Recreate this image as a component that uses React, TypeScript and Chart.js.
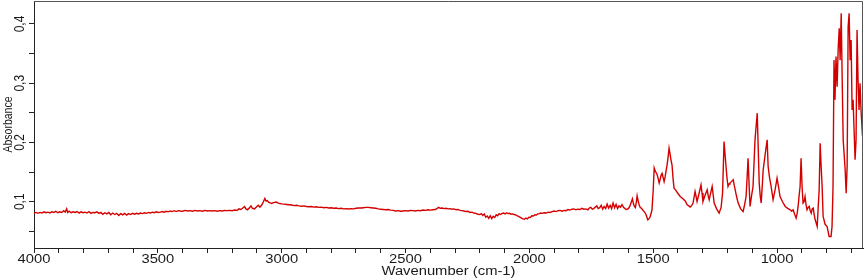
import { useEffect, useRef } from 'react';
import { Chart, registerables } from 'chart.js';

Chart.register(...registerables);

const wavenumbers = [
  4000, 3992, 3984, 3976, 3968, 3960, 3952, 3944, 3936, 3928, 3920, 3912, 3904, 3896, 3888, 3880, 3874, 3868, 3864, 3858,
  3850, 3842, 3834, 3826, 3818, 3810, 3802, 3794, 3786, 3778, 3770, 3762, 3754, 3746, 3738, 3730, 3722, 3714, 3706, 3698,
  3690, 3682, 3674, 3666, 3658, 3650, 3642, 3634, 3626, 3618, 3610, 3602, 3594, 3586, 3578, 3570, 3562, 3554, 3546, 3538,
  3530, 3522, 3514, 3506, 3498, 3490, 3482, 3474, 3466, 3458, 3450, 3442, 3434, 3426, 3418, 3410, 3400, 3390, 3380, 3370,
  3360, 3350, 3340, 3330, 3320, 3310, 3300, 3290, 3280, 3270, 3260, 3250, 3240, 3230, 3220, 3210, 3200, 3190, 3180, 3172,
  3165, 3158, 3150, 3144, 3138, 3130, 3124, 3118, 3110, 3102, 3095, 3088, 3080, 3074, 3068, 3063, 3058, 3052, 3046, 3040,
  3034, 3028, 3022, 3016, 3008, 3000, 2990, 2980, 2970, 2960, 2950, 2940, 2930, 2920, 2910, 2900, 2890, 2880, 2870, 2860,
  2850, 2840, 2830, 2820, 2810, 2800, 2790, 2780, 2770, 2760, 2750, 2740, 2730, 2720, 2710, 2700, 2690, 2680, 2670, 2660,
  2650, 2640, 2630, 2620, 2610, 2600, 2590, 2580, 2570, 2560, 2550, 2540, 2530, 2520, 2510, 2500, 2490, 2480, 2470, 2460,
  2450, 2440, 2430, 2420, 2410, 2400, 2390, 2380, 2372, 2366, 2360, 2352, 2344, 2336, 2328, 2320, 2312, 2304, 2296, 2288,
  2280, 2272, 2264, 2256, 2248, 2240, 2232, 2224, 2216, 2208, 2200, 2194, 2188, 2182, 2176, 2170, 2164, 2158, 2152, 2146,
  2140, 2134, 2128, 2122, 2116, 2110, 2104, 2098, 2092, 2086, 2080, 2074, 2068, 2062, 2056, 2050, 2044, 2038, 2032, 2026,
  2020, 2014, 2008, 2002, 1996, 1990, 1984, 1978, 1972, 1966, 1960, 1954, 1948, 1940, 1932, 1924, 1916, 1908, 1900, 1892,
  1884, 1876, 1868, 1860, 1852, 1844, 1836, 1828, 1820, 1812, 1804, 1796, 1788, 1780, 1772, 1764, 1758, 1752, 1746, 1740,
  1734, 1728, 1722, 1716, 1710, 1704, 1698, 1692, 1686, 1680, 1674, 1668, 1662, 1656, 1650, 1644, 1638, 1632, 1626, 1620,
  1614, 1608, 1600, 1594, 1588, 1584, 1580, 1576, 1572, 1568, 1565, 1561, 1557, 1552, 1548, 1542, 1536, 1532, 1527, 1522,
  1518, 1514, 1510, 1505, 1500, 1496, 1492, 1488, 1484, 1480, 1476, 1472, 1468, 1464, 1460, 1456, 1452, 1448, 1444, 1440,
  1436, 1432, 1428, 1424, 1420, 1416, 1410, 1400, 1391, 1380, 1370, 1363, 1356, 1351, 1345, 1339, 1335, 1331, 1327, 1323,
  1315, 1307, 1303, 1299, 1290, 1282, 1278, 1274, 1268, 1262, 1258, 1254, 1244, 1234, 1226, 1220, 1214, 1210, 1206, 1202,
  1198, 1194, 1190, 1184, 1177, 1173, 1169, 1163, 1157, 1147, 1137, 1131, 1125, 1121, 1117, 1113, 1109, 1103, 1097, 1093,
  1089, 1084, 1080, 1076, 1072, 1068, 1064, 1060, 1056, 1048, 1040, 1036, 1030, 1024, 1016, 1008, 1000, 994, 988, 978,
  967, 957, 947, 941, 935, 929, 923, 919, 915, 911, 907, 903, 899, 895, 891, 887, 883, 879, 875, 870,
  866, 862, 858, 854, 850, 846, 842, 838, 834, 830, 826, 822, 818, 814, 806, 798, 794, 790, 782, 778,
  774, 770, 766, 762, 757.5, 753.4, 749, 745.4, 741, 737, 733, 725, 721, 717, 713, 709, 705, 701, 697, 693,
  689, 685, 681, 677, 673, 669, 665, 661, 656.5, 653,
];

const absorbance = [
  0.081, 0.082, 0.0805, 0.082, 0.081, 0.083, 0.0815, 0.0825, 0.081, 0.083, 0.082, 0.084, 0.0815, 0.083, 0.082, 0.085, 0.0825, 0.088, 0.082, 0.084,
  0.0815, 0.083, 0.082, 0.0835, 0.081, 0.083, 0.0815, 0.0825, 0.081, 0.0835, 0.0805, 0.082, 0.0815, 0.083, 0.0805, 0.082, 0.079, 0.0815, 0.0795, 0.082,
  0.078, 0.081, 0.0785, 0.0805, 0.077, 0.080, 0.078, 0.0805, 0.0775, 0.080, 0.0785, 0.0805, 0.079, 0.0805, 0.0795, 0.081, 0.080, 0.0815, 0.0805, 0.082,
  0.081, 0.0825, 0.0815, 0.083, 0.082, 0.0825, 0.0835, 0.0825, 0.084, 0.083, 0.0845, 0.0835, 0.085, 0.0835, 0.085, 0.0845, 0.084, 0.0855, 0.0845, 0.085,
  0.084, 0.0855, 0.0845, 0.085, 0.084, 0.0855, 0.0845, 0.085, 0.0845, 0.085, 0.084, 0.085, 0.0845, 0.0855, 0.085, 0.0855, 0.085, 0.086, 0.0855, 0.088,
  0.087, 0.089, 0.092, 0.088, 0.0865, 0.090, 0.093, 0.089, 0.088, 0.091, 0.094, 0.091, 0.095, 0.100, 0.1055, 0.101, 0.102, 0.099, 0.098, 0.097,
  0.0985, 0.099, 0.0995, 0.098, 0.097, 0.0965, 0.096, 0.0955, 0.095, 0.0945, 0.0935, 0.094, 0.093, 0.0925, 0.093, 0.092, 0.0915, 0.092, 0.091, 0.0915,
  0.0905, 0.091, 0.090, 0.0905, 0.0895, 0.090, 0.089, 0.0895, 0.0885, 0.089, 0.088, 0.0885, 0.0878, 0.0885, 0.088, 0.089, 0.0895, 0.0895, 0.090, 0.0905,
  0.0905, 0.090, 0.0895, 0.089, 0.088, 0.0875, 0.087, 0.0865, 0.087, 0.086, 0.0855, 0.0845, 0.085, 0.084, 0.0845, 0.085, 0.0845, 0.0855, 0.085, 0.0845,
  0.0855, 0.085, 0.086, 0.0855, 0.0865, 0.086, 0.0865, 0.087, 0.089, 0.0905, 0.089, 0.0895, 0.0885, 0.089, 0.088, 0.0885, 0.0875, 0.088, 0.0865, 0.087,
  0.0855, 0.085, 0.0845, 0.0835, 0.084, 0.082, 0.0825, 0.081, 0.0805, 0.079, 0.0785, 0.080, 0.077, 0.0795, 0.074, 0.076, 0.072, 0.0765, 0.0715, 0.0755,
  0.0735, 0.078, 0.0765, 0.080, 0.0785, 0.0805, 0.081, 0.0795, 0.0815, 0.080, 0.0805, 0.079, 0.0795, 0.0785, 0.078, 0.0765, 0.0755, 0.074, 0.0725, 0.071,
  0.0705, 0.0725, 0.071, 0.074, 0.0735, 0.0765, 0.076, 0.078, 0.0775, 0.0795, 0.080, 0.081, 0.0805, 0.0815, 0.081, 0.0825, 0.082, 0.0835, 0.0845, 0.0835,
  0.085, 0.0855, 0.084, 0.0855, 0.085, 0.087, 0.086, 0.0875, 0.088, 0.0865, 0.0875, 0.087, 0.089, 0.0875, 0.088, 0.0865, 0.0895, 0.0905, 0.0875, 0.0885,
  0.091, 0.093, 0.0885, 0.090, 0.094, 0.0875, 0.092, 0.0885, 0.096, 0.0895, 0.094, 0.0885, 0.098, 0.090, 0.0955, 0.0885, 0.093, 0.091, 0.095, 0.0905,
  0.0885, 0.087, 0.0885, 0.093, 0.100, 0.105, 0.097, 0.092, 0.090, 0.100, 0.110, 0.102, 0.095, 0.090, 0.0895, 0.086, 0.083, 0.081, 0.076, 0.0697,
  0.071, 0.073, 0.078, 0.0865, 0.120, 0.157, 0.152, 0.149, 0.1455, 0.139, 0.1315, 0.138, 0.145, 0.148, 0.141, 0.134, 0.142, 0.152, 0.1623, 0.175,
  0.1905, 0.181, 0.170, 0.162, 0.140, 0.123, 0.120, 0.114, 0.109, 0.105, 0.101, 0.0949, 0.093, 0.091, 0.0935, 0.0978, 0.108, 0.1173, 0.109, 0.1005,
  0.114, 0.1286, 0.115, 0.1005, 0.112, 0.1202, 0.110, 0.1034, 0.115, 0.1258, 0.112, 0.0978, 0.088, 0.0809, 0.090, 0.115, 0.2016, 0.180, 0.1595, 0.140,
  0.1258, 0.130, 0.1315, 0.134, 0.1371, 0.128, 0.1202, 0.108, 0.0978, 0.088, 0.0836, 0.095, 0.1089, 0.140, 0.1736, 0.130, 0.0921, 0.110, 0.1258, 0.165,
  0.2045, 0.230, 0.2495, 0.190, 0.1315, 0.110, 0.0978, 0.125, 0.1539, 0.180, 0.2045, 0.1595, 0.140, 0.1258, 0.1034, 0.120, 0.1399, 0.125, 0.1089, 0.100,
  0.0921, 0.089, 0.0865, 0.084, 0.0865, 0.079, 0.0725, 0.080, 0.0921, 0.110, 0.1258, 0.1736, 0.1258, 0.0978, 0.100, 0.1089, 0.095, 0.0865, 0.090, 0.0921,
  0.085, 0.0809, 0.088, 0.0894, 0.078, 0.0696, 0.064, 0.0583, 0.090, 0.1202, 0.1989, 0.160, 0.1258, 0.0752, 0.062, 0.0583, 0.050, 0.0415, 0.0415, 0.0583,
  0.1258, 0.3393, 0.272, 0.345, 0.294, 0.356, 0.3928, 0.339, 0.418, 0.306, 0.2045, 0.154, 0.1146, 0.160, 0.3954, 0.418, 0.339, 0.373, 0.255, 0.272,
  0.221, 0.1708, 0.2045, 0.3899, 0.3056, 0.255, 0.300, 0.255, 0.2213, 0.230,
];

const xTickValues = [4000, 3900, 3800, 3700, 3600, 3500, 3400, 3300, 3200, 3100, 3000, 2900, 2800, 2700, 2600, 2500, 2400, 2300, 2200, 2100, 2000, 1900, 1800, 1700, 1600, 1500, 1400, 1300, 1200, 1100, 1000, 900, 800, 700];
const xLabelValues = [4000, 3500, 3000, 2500, 2000, 1500, 1000];
const yTickValues = [0.05, 0.1, 0.15, 0.2, 0.25, 0.3, 0.35, 0.4];
const yLabelValues = [0.1, 0.2, 0.3, 0.4];
const xTitle = 'Wavenumber (cm-1)';
const yTitle = 'Absorbance';
const xMin = 653;
const xMax = 4000;
const yMin = 0.022;
const yMax = 0.4388;

const textColor = '#1a1a1a';
const stretch = 1.23;

const decorPlugin = {
  id: 'decor',
  afterDraw(chart: any) {
    const { ctx, chartArea, scales } = chart;
    const { left, top, right, bottom } = chartArea;
    ctx.save();
    // frame top/right
    ctx.strokeStyle = '#555';
    ctx.lineWidth = 1;
    ctx.beginPath();
    ctx.moveTo(left, top + 0.5);
    ctx.lineTo(right - 0.5, top + 0.5);
    ctx.lineTo(right - 0.5, bottom);
    ctx.stroke();

    ctx.fillStyle = textColor;
    ctx.font = '12px "Liberation Sans", Arial';
    ctx.textAlign = 'center';
    ctx.textBaseline = 'middle';
    const hText = (t: string, x: number, y: number) => {
      ctx.save();
      ctx.translate(x, y);
      ctx.scale(stretch, 1);
      ctx.fillText(t, 0, 0);
      ctx.restore();
    };
    for (const v of xLabelValues) {
      hText(String(v), scales.x.getPixelForValue(v), 260);
    }
    hText(xTitle, (left + right) / 2, 272);

    const vText = (t: string, x: number, y: number, size: number) => {
      ctx.save();
      ctx.font = size + 'px "Liberation Sans", Arial';
      ctx.translate(x, y);
      ctx.rotate(-Math.PI / 2);
      ctx.scale(1, stretch);
      ctx.fillText(t, 0, 0);
      ctx.restore();
    };
    for (const v of yLabelValues) {
      vText(String(v).replace('.', ','), 20, scales.y.getPixelForValue(v), 12);
    }
    vText(yTitle, 8, (top + bottom) / 2, 10.5);
    ctx.restore();
  },
};

export default function App() {
  const ref = useRef<HTMLCanvasElement>(null);
  useEffect(() => {
    document.body.style.margin = '0';
    const canvas = ref.current!;
    const chart = new Chart(canvas, {
      type: 'line',
      data: {
        datasets: [
          {
            data: wavenumbers.map((w, i) => ({ x: w, y: absorbance[i] })),
            borderColor: '#d40000',
            borderWidth: 1.4,
            pointRadius: 0,
            tension: 0,
            fill: false,
          },
        ],
      },
      options: {
        animation: false,
        responsive: false,
        devicePixelRatio: 1,
        layout: { padding: { left: 0, right: 1, top: 1, bottom: 0 } },
        plugins: { legend: { display: false }, tooltip: { enabled: false } },
        scales: {
          x: {
            type: 'linear',
            reverse: true,
            min: xMin,
            max: xMax,
            afterBuildTicks: (s: any) => {
              s.ticks = xTickValues.map((v) => ({ value: v }));
            },
            afterFit: (s: any) => {
              s.height = 30;
            },
            ticks: { callback: () => '', font: { size: 1 }, padding: 0 },
            grid: { drawOnChartArea: false, drawTicks: true, tickLength: 5, tickColor: '#222', color: '#222' },
            border: { display: true, color: '#222', width: 1 },
          },
          y: {
            type: 'linear',
            min: yMin,
            max: yMax,
            afterBuildTicks: (s: any) => {
              s.ticks = yTickValues.map((v) => ({ value: v }));
            },
            afterFit: (s: any) => {
              s.width = 34;
            },
            ticks: { callback: () => '', font: { size: 1 }, padding: 0 },
            grid: { drawOnChartArea: false, drawTicks: true, tickLength: 5, tickColor: '#222', color: '#222' },
            border: { display: true, color: '#222', width: 1 },
          },
        },
      },
      plugins: [decorPlugin],
    });
    return () => chart.destroy();
  }, []);
  return (
    <div style={{ position: 'fixed', left: 0, top: 0, width: 864, height: 278, background: '#fff' }}>
      <canvas ref={ref} width={864} height={278} style={{ display: 'block', width: 864, height: 278 }} />
    </div>
  );
}
